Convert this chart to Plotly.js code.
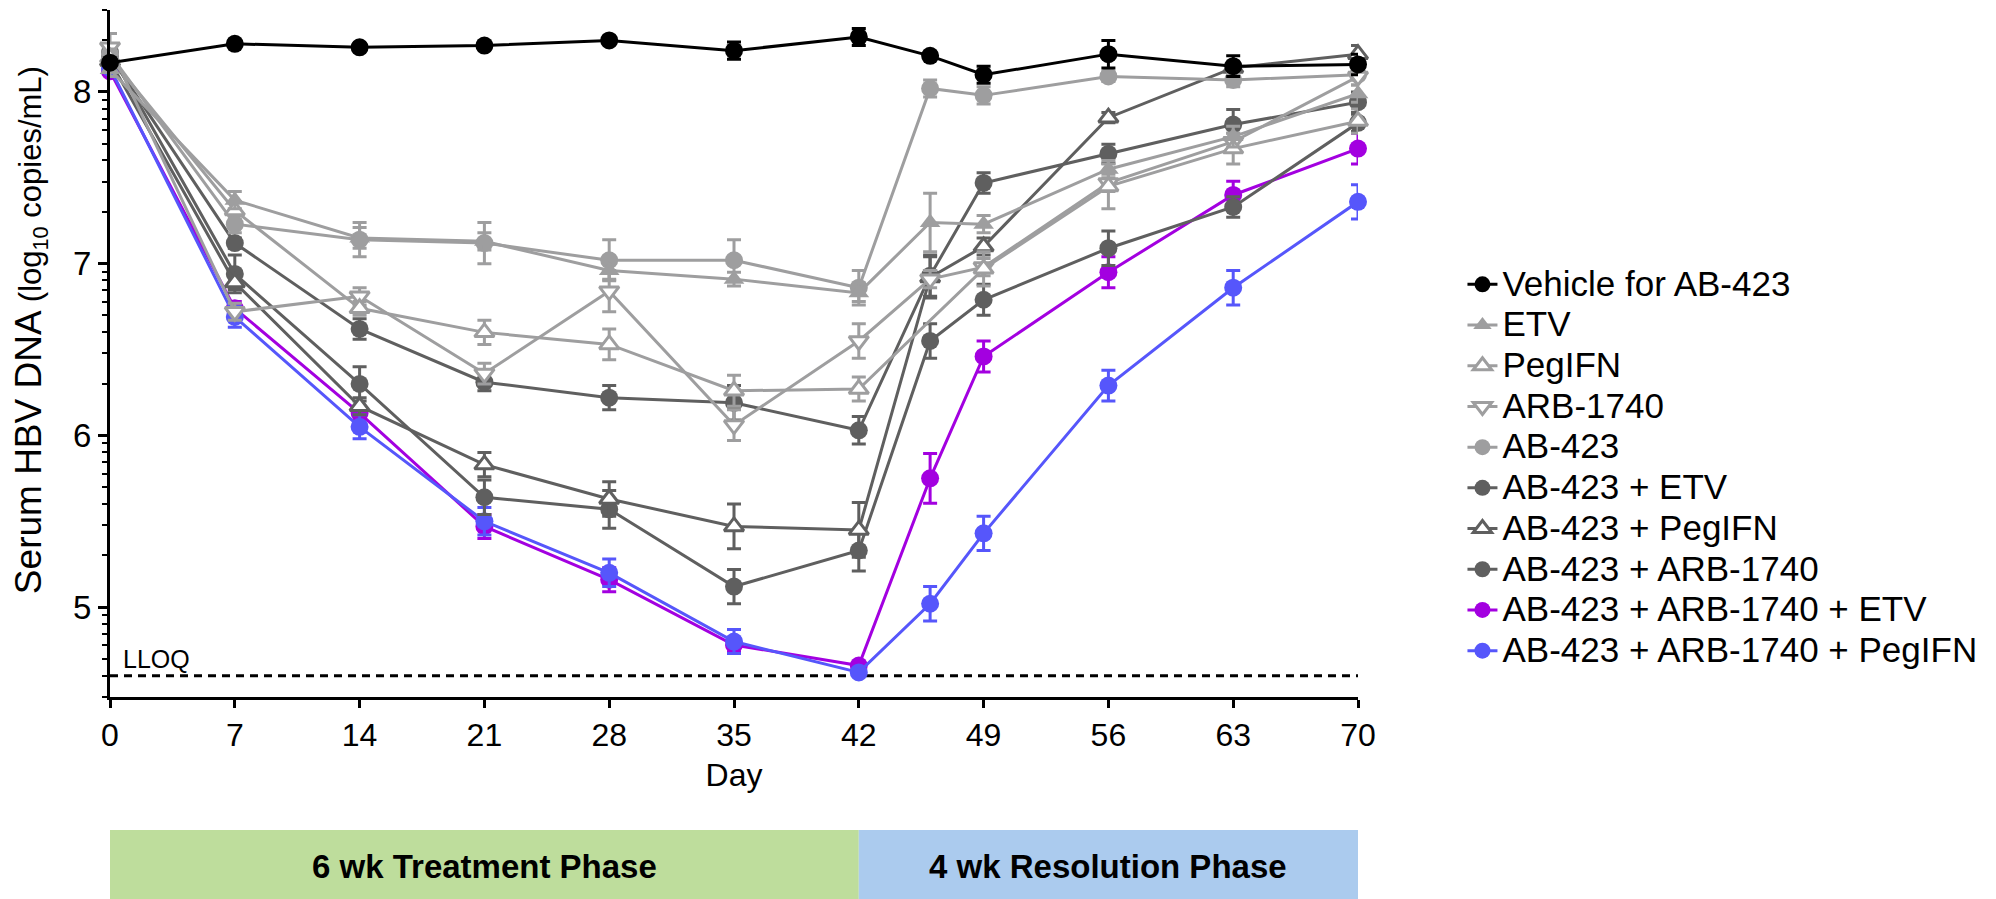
<!DOCTYPE html>
<html><head><meta charset="utf-8">
<script src="https://cdn.plot.ly/plotly-3.0.1.min.js"></script>
<style>html,body{margin:0;padding:0;background:#fff}#chart{width:1996px;height:899px}</style>
</head><body><div id="chart"></div>
<script>
// ---- data (log10 copies/mL) ----
const days      = [0, 7, 14, 21, 28, 35, 42, 46, 49, 56, 63, 70];
const daysNo46  = [0, 7, 14, 21, 28, 35, 42, 49, 56, 63, 70];
const xTicks    = [0, 7, 14, 21, 28, 35, 42, 49, 56, 63, 70];
const yTicks    = [5, 6, 7, 8];

const vehicle      = [8.17, 8.28, 8.26, 8.27, 8.30, 8.24, 8.32, 8.21, 8.10, 8.22, 8.15, 8.16];
const vehicleErr   = [0.02, 0.02, 0.02, 0.02, 0.02, 0.05, 0.05, 0.02, 0.05, 0.08, 0.06, 0.06];
const etv          = [8.13, 7.37, 7.15, 7.13, 6.96, 6.91, 6.83, 7.24, 7.23, 7.55, 7.74, 7.99];
const etvErr       = [0.04, 0.05, 0.06, 0.05, 0.05, 0.04, 0.05, 0.17, 0.05, 0.05, 0.06, 0.05];
const peg          = [8.20, 7.31, 6.74, 6.60, 6.53, 6.26, 6.27, 6.97, 7.45, 7.67, 7.83];
const pegErr       = [0.05, 0.05, 0.04, 0.07, 0.09, 0.09, 0.07, 0.10, 0.13, 0.09, 0.07];
const arb          = [8.26, 6.72, 6.81, 6.36, 6.84, 6.06, 6.55, 6.91, 6.98, 7.47, 7.71, 8.09];
const arbErr       = [0.08, 0.05, 0.05, 0.06, 0.12, 0.09, 0.10, 0.05, 0.05, 0.05, 0.05, 0.05];
const ab423        = [8.22, 7.23, 7.14, 7.12, 7.02, 7.02, 6.86, 8.02, 7.98, 8.09, 8.07, 8.10];
const ab423Err     = [0.05, 0.05, 0.10, 0.12, 0.12, 0.12, 0.10, 0.05, 0.05, 0.03, 0.04, 0.03];
const abEtv        = [8.21, 7.12, 6.62, 6.31, 6.22, 6.19, 6.03, 6.93, 7.47, 7.64, 7.81, 7.94];
const abEtvErr     = [0.04, 0.03, 0.06, 0.05, 0.07, 0.10, 0.08, 0.12, 0.06, 0.055, 0.087, 0.06];
const abPeg        = [8.18, 6.89, 6.17, 5.83, 5.63, 5.47, 5.45, 6.92, 7.10, 7.85, 8.14, 8.22];
const abPegErr     = [0.04, 0.04, 0.05, 0.07, 0.10, 0.13, 0.16, 0.12, 0.05, 0.03, 0.03, 0.05];
const abArb        = [8.23, 6.94, 6.30, 5.64, 5.57, 5.12, 5.33, 6.55, 6.79, 7.09, 7.33, 7.82];
const abArbErr     = [0.04, 0.11, 0.10, 0.10, 0.11, 0.10, 0.12, 0.10, 0.09, 0.10, 0.06, 0.05];
const abArbEtv     = [8.12, 6.74, 6.13, 5.47, 5.16, 4.78, 4.66, 5.75, 6.46, 6.95, 7.40, 7.67];
const abArbEtvErr  = [0.03, 0.04, 0.04, 0.07, 0.07, 0.04, 0.02, 0.145, 0.09, 0.09, 0.08, 0.09];
const abArbPeg     = [8.14, 6.69, 6.05, 5.50, 5.20, 4.80, 4.62, 5.02, 5.43, 6.29, 6.86, 7.36];
const abArbPegErr  = [0.03, 0.06, 0.07, 0.08, 0.08, 0.07, 0.02, 0.10, 0.10, 0.09, 0.10, 0.10];

const LLOQ = 4.6;
const phaseLabels = ['6 wk Treatment Phase', '4 wk Resolution Phase'];
const phaseStart  = [0, 42];
const phaseEnd    = [42, 70];

// ---- styles ----
const LIGHT = '#9e9e9f', DARK = '#5f5f5f', PURPLE = '#a300e0', BLUE = '#5656fb';
const FONT = 'Liberation Sans, Arial, sans-serif';

function tr(name, rank, x, y, err, color, symbol, open) {
  return {
    type: 'scatter', mode: 'lines+markers', name: '<span style="font-size:35px">' + name + '</span>',
    legendrank: rank, x: x, y: y, cliponaxis: false,
    line: {color: color, width: 3},
    marker: open ? {symbol: symbol, size: 17, color: '#ffffff', line: {color: color, width: 3}}
                 : {symbol: symbol, size: 18, color: color, line: {width: 0}},
    error_y: {type: 'data', array: err, visible: true, color: color, thickness: 3, width: 7}
  };
}

const traces = [
  tr('AB-423 + ARB-1740 + ETV', 9, days, abArbEtv, abArbEtvErr, PURPLE, 'circle', false),
  tr('AB-423 + ARB-1740 + PegIFN', 10, days, abArbPeg, abArbPegErr, BLUE, 'circle', false),
  tr('AB-423 + ARB-1740', 8, days, abArb, abArbErr, DARK, 'circle', false),
  tr('AB-423 + PegIFN', 7, days, abPeg, abPegErr, DARK, 'triangle-up', true),
  tr('AB-423 + ETV', 6, days, abEtv, abEtvErr, DARK, 'circle', false),
  tr('AB-423', 5, days, ab423, ab423Err, LIGHT, 'circle', false),
  tr('ARB-1740', 4, days, arb, arbErr, LIGHT, 'triangle-down', true),
  tr('PegIFN', 3, daysNo46, peg, pegErr, LIGHT, 'triangle-up', true),
  tr('ETV', 2, days, etv, etvErr, LIGHT, 'triangle-up', false),
  tr('Vehicle for AB-423', 1, days, vehicle, vehicleErr, '#000000', 'circle', false)
];

const minorY = [];
for (let n = 4; n <= 8; n++) for (let k = 2; k <= 9; k++) {
  const v = n + Math.log10(k);
  if (v >= 4.476 && v <= 8.478) minorY.push(v);
}

const plotTop = 10, plotBottom = 697, plotH = plotBottom - plotTop;
const py = (px) => (plotBottom - px) / plotH;   // pixel row -> paper y

const shapes = [
  {type: 'line', xref: 'x', yref: 'y', x0: xTicks[0], x1: xTicks[xTicks.length - 1], y0: LLOQ, y1: LLOQ,
   line: {color: '#000', width: 3, dash: '8px,6px'}, layer: 'below'}
];
const phaseColors = ['#bedd9c', '#abcbee'];
const annotations = [
  {xref: 'x', yref: 'y', x: 0.6, y: LLOQ, xanchor: 'left', yanchor: 'bottom', yshift: 1, showarrow: false,
   text: 'LLOQ', font: {family: FONT, size: 25, color: '#000'}},
  {xref: 'paper', yref: 'paper', x: -0.064, y: py(330), xanchor: 'center', yanchor: 'middle', textangle: -90, showarrow: false,
   text: 'Serum HBV DNA <span style="font-size:31px">(log<sub>10</sub> copies/mL)</span>', font: {family: FONT, size: 37, color: '#000'}}
];
phaseLabels.forEach((lab, i) => {
  shapes.push({type: 'rect', xref: 'x', yref: 'paper', x0: phaseStart[i], x1: phaseEnd[i], y0: py(899), y1: py(830),
    fillcolor: phaseColors[i], line: {width: 0}, layer: 'below'});
  annotations.push({xref: 'x', yref: 'paper', x: (phaseStart[i] + phaseEnd[i]) / 2, y: py(866), xanchor: 'center', yanchor: 'middle',
    showarrow: false, text: '<b>' + lab + '</b>', font: {family: FONT, size: 33, color: '#000'}});
});

const layout = {
  width: 1996, height: 899,
  margin: {l: 110, r: 638, t: plotTop, b: 899 - plotBottom},
  paper_bgcolor: '#fff', plot_bgcolor: '#fff',
  font: {family: FONT, color: '#000'},
  showlegend: true,
  legend: {x: 1.0837, y: py(259), xanchor: 'left', yanchor: 'top', font: {family: FONT, size: 29, color: '#000'},
           bgcolor: 'rgba(0,0,0,0)', borderwidth: 0, itemwidth: 30, traceorder: 'normal'},
  xaxis: {range: [0, 70], tickmode: 'array', tickvals: xTicks, ticktext: xTicks.map(String),
          ticks: 'outside', ticklen: 8, tickwidth: 3, tickcolor: '#000', showline: true, linewidth: 3, linecolor: '#000',
          showgrid: false, zeroline: false, tickfont: {family: FONT, size: 32, color: '#000'},
          title: {text: 'Day', font: {family: FONT, size: 32, color: '#000'}, standoff: 12}},
  yaxis: {range: [4.477, 8.477], tickmode: 'array', tickvals: yTicks, ticktext: yTicks.map(String),
          ticks: 'outside', ticklen: 9, tickwidth: 3, tickcolor: '#000', showline: true, linewidth: 3, linecolor: '#000',
          showgrid: false, zeroline: false, tickfont: {family: FONT, size: 33, color: '#000'},
          minor: {tickmode: 'array', tickvals: minorY, ticks: 'outside', ticklen: 5, tickwidth: 2, tickcolor: '#000', showgrid: false}},
  shapes: shapes, annotations: annotations
};

Plotly.newPlot('chart', traces, layout, {displayModeBar: false, staticPlot: true});
</script>
</body></html>
